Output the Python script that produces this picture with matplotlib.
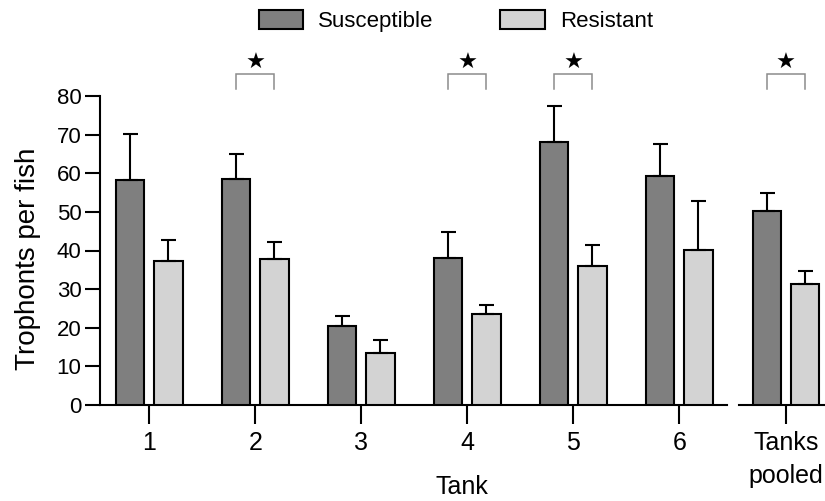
import matplotlib
matplotlib.use("Agg")
import matplotlib.pyplot as plt
from matplotlib.patches import Patch
import numpy as np

plt.rcParams['font.family'] = ['Liberation Sans', 'DejaVu Sans']
plt.rcParams['font.size'] = 16

# ---------------- data ----------------
tanks = ['1', '2', '3', '4', '5', '6']
susceptible = [58.3, 58.6, 20.5, 38.0, 68.1, 59.2]
susceptible_err = [11.8, 6.3, 2.6, 6.8, 9.2, 8.5]
resistant = [37.4, 37.7, 13.4, 23.6, 36.1, 40.2]
resistant_err = [5.4, 4.4, 3.4, 2.2, 5.4, 12.5]
significant = ['2', '4', '5']

pooled_label = 'Tanks\npooled'
pooled_susceptible = [50.2]
pooled_susceptible_err = [4.7]
pooled_resistant = [31.2]
pooled_resistant_err = [3.5]
pooled_significant = True

yticks = [0, 10, 20, 30, 40, 50, 60, 70, 80]

# ---------------- style ----------------
dark = '#7f7f7f'
light = '#d3d3d3'
bw = 0.267
off = 0.18
lw = 1.5
bracket_color = '#8c8c8c'

fig = plt.figure(figsize=(8.25, 5.01), dpi=100)
bottom = (501 - 405) / 501
height = (405 - 96) / 501
ax = fig.add_axes([100 / 825, bottom, (726.7 - 100) / 825, height])
axp = fig.add_axes([739.3 / 825, bottom, (825 - 739.3) / 825, height])

err_kw = dict(ecolor='black', elinewidth=lw, capsize=5.4, capthick=lw)


def draw(axis, pos, s, se, r, re):
    pos = np.asarray(pos, dtype=float)
    axis.bar(pos - off, s, bw, color=dark, edgecolor='black', linewidth=lw,
             yerr=[np.zeros(len(s)), se], error_kw=err_kw, zorder=3)
    axis.bar(pos + off, r, bw, color=light, edgecolor='black', linewidth=lw,
             yerr=[np.zeros(len(r)), re], error_kw=err_kw, zorder=3)


def bracket(axis, xc):
    xl, xr = xc - off, xc + off
    axis.plot([xl, xl, xr, xr], [81.7, 85.6, 85.6, 81.7], color=bracket_color,
              lw=1.1, clip_on=False, solid_joinstyle='miter')
    axis.text(xc, 88.6, '★', ha='center', va='center', fontsize=16,
              family='DejaVu Sans', clip_on=False)


x = np.arange(1, len(tanks) + 1)
draw(ax, x, susceptible, susceptible_err, resistant, resistant_err)
draw(axp, [0], pooled_susceptible, pooled_susceptible_err,
     pooled_resistant, pooled_resistant_err)

for t, xc in zip(tanks, x):
    if t in significant:
        bracket(ax, xc)
if pooled_significant:
    bracket(axp, 0)

for a in (ax, axp):
    a.set_ylim(0, 80)
    a.spines['top'].set_visible(False)
    a.spines['right'].set_visible(False)
    a.spines['bottom'].set_linewidth(lw)
    a.spines['left'].set_linewidth(lw)
    a.tick_params(axis='x', direction='out', length=14, width=lw, pad=4.5)
    a.tick_params(axis='y', direction='out', length=10.8, width=lw, pad=2.5,
                  labelsize=16)

ax.set_xlim(0.535, 6.447)
ax.set_xticks(x)
ax.set_xticklabels(tanks, fontsize=18)
ax.set_yticks(yticks)
ax.set_ylabel('Trophonts per fish', fontsize=20, va='center')
ax.yaxis.set_label_coords(-0.115, 0.472)

axp.set_xlim(-0.44, 0.368)
axp.set_xticks([0])
axp.set_xticklabels([pooled_label], linespacing=1.5, fontsize=18)
axp.spines['left'].set_visible(False)
axp.set_yticks([])

fig.text(462 / 825, 1 - 487 / 501, 'Tank', ha='center', va='center', fontsize=18)

handles = [Patch(facecolor=dark, edgecolor='black', linewidth=lw, label='Susceptible'),
           Patch(facecolor=light, edgecolor='black', linewidth=lw, label='Resistant')]
fig.legend(handles=handles, loc='center', bbox_to_anchor=(456 / 825, 1 - 21 / 501),
           ncol=2, frameon=False, fontsize=16, handlelength=2.0, handleheight=0.95,
           handletextpad=0.68, columnspacing=3.0, borderpad=0, borderaxespad=0)

fig.savefig('out.png', dpi=100)
